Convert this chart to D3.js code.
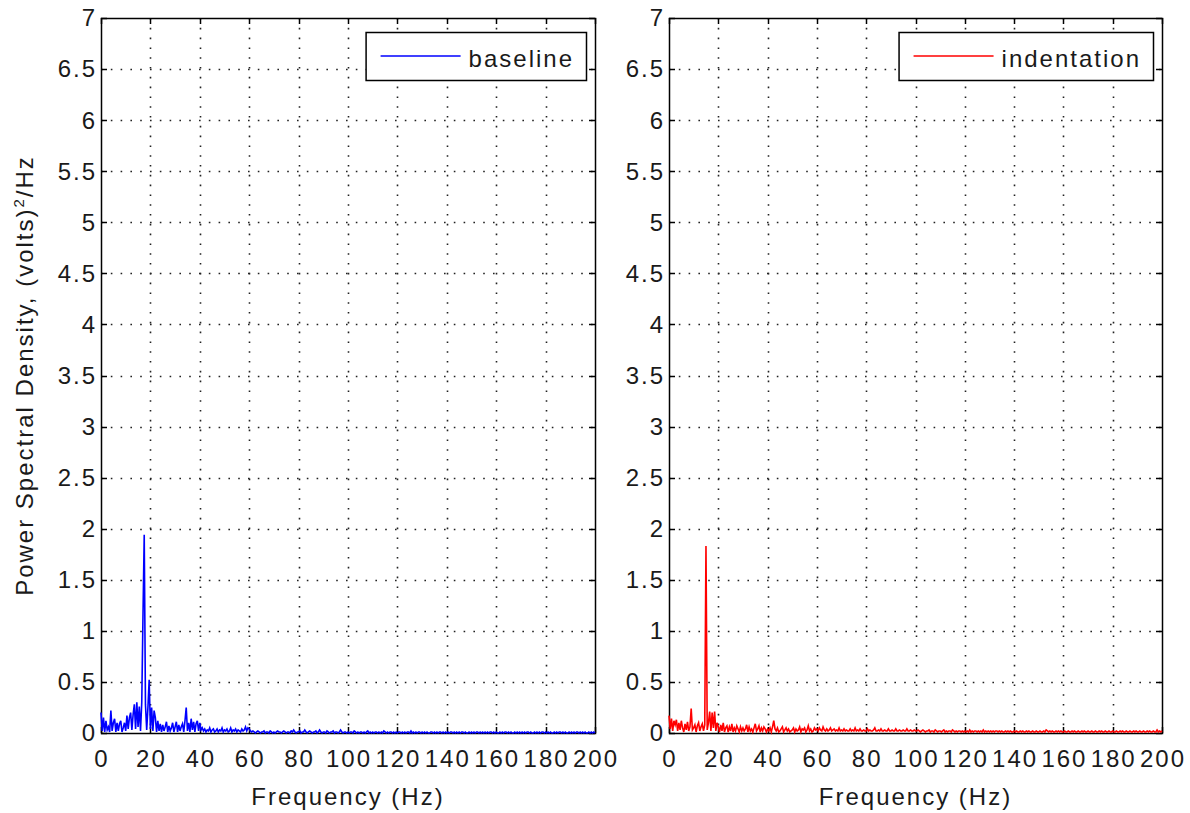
<!DOCTYPE html>
<html>
<head>
<meta charset="utf-8">
<script src="https://cdn.jsdelivr.net/npm/d3@7.9.0/dist/d3.min.js"></script>
<style>
  body { margin: 0; background: #fff; }
  svg text { font-family: "Liberation Sans", Arial, Helvetica, sans-serif; font-size: 24px; letter-spacing: 2px; fill: #1a1a1a; }
</style>
</head>
<body>
<svg id="chart" width="1190" height="813"></svg>
<script>
// ---------- Data ----------
// PSD estimates, one value every 0.5 Hz from 0 to 200 Hz
const freqStep = 0.5;

const baseline = [
  // 0-10 Hz
  0.20, 0.02, 0.15, 0.01, 0.12, 0.03, 0.06, 0.01, 0.22, 0.02, 0.10, 0.14, 0.01, 0.10, 0.02, 0.09, 0.12, 0.01, 0.05, 0.10,
  // 10-20 Hz
  0.02, 0.17, 0.04, 0.15, 0.20, 0.03, 0.18, 0.28, 0.04, 0.30, 0.06, 0.26, 0.02, 0.30, 1.15, 1.94, 0.28, 0.03, 0.25, 0.52,
  // 20-30 Hz
  0.04, 0.25, 0.02, 0.22, 0.15, 0.01, 0.12, 0.02, 0.09, 0.01, 0.08, 0.02, 0.06, 0.11, 0.01, 0.07, 0.02, 0.05, 0.10, 0.01,
  // 30-40 Hz
  0.06, 0.11, 0.01, 0.08, 0.02, 0.06, 0.09, 0.01, 0.12, 0.25, 0.02, 0.10, 0.01, 0.14, 0.03, 0.11, 0.01, 0.09, 0.12, 0.02,
  // 40-50 Hz
  0.10, 0.03, 0.05, 0.02, 0.04, 0.01, 0.03, 0.02, 0.05, 0.01, 0.03, 0.04, 0.01, 0.02, 0.04, 0.01, 0.03, 0.02, 0.05, 0.01,
  // 50-60 Hz
  0.03, 0.02, 0.04, 0.01, 0.02, 0.05, 0.01, 0.03, 0.02, 0.04, 0.01, 0.03, 0.02, 0.01, 0.04, 0.02, 0.03, 0.06, 0.02, 0.05,
  // 60-70 Hz
  0.04, 0.02, 0.01, 0.02, 0.01, 0.00, 0.01, 0.02, 0.01, 0.00, 0.01, 0.01, 0.02, 0.00, 0.01, 0.01, 0.00, 0.02, 0.01, 0.00,
  // 70-80 Hz
  0.01, 0.00, 0.01, 0.02, 0.01, 0.01, 0.00, 0.01, 0.02, 0.01, 0.00, 0.01, 0.01, 0.00, 0.02, 0.01, 0.03, 0.01, 0.00, 0.01,
  // 80-90 Hz
  0.01, 0.02, 0.00, 0.01, 0.01, 0.03, 0.01, 0.00, 0.01, 0.02, 0.01, 0.00, 0.01, 0.01, 0.02, 0.00, 0.01, 0.03, 0.01, 0.00,
  // 90-100 Hz
  0.01, 0.01, 0.00, 0.02, 0.01, 0.00, 0.01, 0.01, 0.02, 0.00, 0.01, 0.01, 0.00, 0.01, 0.03, 0.01, 0.00, 0.01, 0.01, 0.00,
  // 100-110 Hz
  0.01, 0.00, 0.01, 0.01, 0.00, 0.02, 0.01, 0.00, 0.01, 0.00, 0.01, 0.01, 0.00, 0.01, 0.00, 0.01, 0.02, 0.00, 0.01, 0.00,
  // 110-120 Hz
  0.01, 0.00, 0.01, 0.01, 0.00, 0.01, 0.00, 0.01, 0.00, 0.02, 0.01, 0.00, 0.01, 0.00, 0.01, 0.01, 0.00, 0.01, 0.00, 0.01,
  // 120-130 Hz
  0.00, 0.01, 0.01, 0.00, 0.01, 0.00, 0.01, 0.00, 0.01, 0.01, 0.00, 0.02, 0.00, 0.01, 0.00, 0.01, 0.00, 0.01, 0.01, 0.00,
  // 130-140 Hz
  0.01, 0.00, 0.01, 0.00, 0.01, 0.00, 0.00, 0.01, 0.01, 0.00, 0.01, 0.00, 0.01, 0.00, 0.01, 0.01, 0.00, 0.01, 0.00, 0.01,
  // 140-150 Hz
  0.00, 0.01, 0.00, 0.01, 0.01, 0.00, 0.01, 0.00, 0.01, 0.00, 0.01, 0.00, 0.01, 0.01, 0.00, 0.01, 0.00, 0.00, 0.01, 0.00,
  // 150-160 Hz
  0.01, 0.00, 0.01, 0.00, 0.01, 0.01, 0.00, 0.01, 0.00, 0.01, 0.00, 0.01, 0.00, 0.01, 0.00, 0.01, 0.01, 0.00, 0.01, 0.00,
  // 160-170 Hz
  0.01, 0.00, 0.00, 0.01, 0.00, 0.01, 0.00, 0.01, 0.01, 0.00, 0.01, 0.00, 0.01, 0.00, 0.00, 0.01, 0.00, 0.01, 0.00, 0.01,
  // 170-180 Hz
  0.00, 0.01, 0.00, 0.01, 0.00, 0.01, 0.01, 0.00, 0.01, 0.00, 0.00, 0.01, 0.00, 0.01, 0.00, 0.01, 0.00, 0.01, 0.01, 0.00,
  // 180-190 Hz
  0.01, 0.00, 0.01, 0.00, 0.01, 0.00, 0.00, 0.01, 0.00, 0.01, 0.00, 0.01, 0.01, 0.00, 0.01, 0.00, 0.01, 0.00, 0.00, 0.01,
  // 190-200 Hz
  0.00, 0.01, 0.00, 0.01, 0.00, 0.01, 0.01, 0.00, 0.01, 0.00, 0.01, 0.00, 0.01, 0.00, 0.00, 0.01, 0.00, 0.01, 0.00, 0.01,
  0.00
];

const indentation = [
  // 0-10 Hz
  0.17, 0.04, 0.14, 0.02, 0.12, 0.08, 0.13, 0.02, 0.10, 0.03, 0.12, 0.05, 0.01, 0.09, 0.03, 0.11, 0.02, 0.06, 0.24, 0.03,
  // 10-20 Hz
  0.05, 0.08, 0.01, 0.07, 0.10, 0.02, 0.06, 0.09, 0.02, 0.08, 1.83, 0.03, 0.10, 0.21, 0.02, 0.20, 0.05, 0.21, 0.02, 0.10,
  // 20-30 Hz
  0.06, 0.01, 0.08, 0.02, 0.10, 0.01, 0.05, 0.07, 0.01, 0.06, 0.02, 0.09, 0.01, 0.05, 0.02, 0.07, 0.04, 0.01, 0.06, 0.02,
  // 30-40 Hz
  0.05, 0.02, 0.04, 0.08, 0.01, 0.06, 0.02, 0.04, 0.01, 0.05, 0.09, 0.02, 0.04, 0.07, 0.01, 0.05, 0.02, 0.06, 0.04, 0.01,
  // 40-50 Hz
  0.04, 0.02, 0.05, 0.01, 0.06, 0.12, 0.04, 0.02, 0.05, 0.01, 0.02, 0.04, 0.06, 0.01, 0.03, 0.05, 0.02, 0.04, 0.01, 0.02,
  // 50-60 Hz
  0.03, 0.05, 0.01, 0.04, 0.02, 0.03, 0.06, 0.01, 0.04, 0.03, 0.05, 0.01, 0.03, 0.07, 0.02, 0.04, 0.01, 0.02, 0.05, 0.03,
  // 60-70 Hz
  0.04, 0.02, 0.05, 0.03, 0.02, 0.06, 0.03, 0.02, 0.04, 0.02, 0.03, 0.05, 0.02, 0.03, 0.04, 0.02, 0.03, 0.02, 0.05, 0.02,
  // 70-80 Hz
  0.03, 0.02, 0.04, 0.02, 0.03, 0.02, 0.02, 0.04, 0.02, 0.03, 0.02, 0.05, 0.02, 0.03, 0.02, 0.04, 0.02, 0.02, 0.03, 0.02,
  // 80-90 Hz
  0.02, 0.04, 0.02, 0.03, 0.02, 0.02, 0.03, 0.05, 0.02, 0.02, 0.03, 0.02, 0.04, 0.02, 0.02, 0.03, 0.02, 0.02, 0.04, 0.02,
  // 90-100 Hz
  0.02, 0.03, 0.02, 0.02, 0.04, 0.02, 0.02, 0.03, 0.02, 0.02, 0.03, 0.02, 0.02, 0.04, 0.02, 0.02, 0.03, 0.02, 0.02, 0.03,
  // 100-110 Hz
  0.02, 0.02, 0.03, 0.02, 0.01, 0.02, 0.03, 0.02, 0.01, 0.02, 0.02, 0.03, 0.01, 0.02, 0.02, 0.01, 0.03, 0.02, 0.01, 0.02,
  // 110-120 Hz
  0.02, 0.01, 0.02, 0.03, 0.01, 0.02, 0.01, 0.02, 0.02, 0.01, 0.03, 0.02, 0.01, 0.02, 0.01, 0.02, 0.02, 0.01, 0.02, 0.01,
  // 120-130 Hz
  0.02, 0.01, 0.02, 0.01, 0.03, 0.01, 0.02, 0.01, 0.02, 0.02, 0.01, 0.02, 0.01, 0.02, 0.01, 0.03, 0.01, 0.02, 0.01, 0.02,
  // 130-140 Hz
  0.01, 0.02, 0.01, 0.02, 0.01, 0.02, 0.02, 0.01, 0.02, 0.01, 0.02, 0.01, 0.01, 0.02, 0.01, 0.02, 0.01, 0.02, 0.01, 0.01,
  // 140-150 Hz
  0.02, 0.01, 0.02, 0.01, 0.01, 0.02, 0.01, 0.02, 0.01, 0.01, 0.02, 0.01, 0.02, 0.01, 0.01, 0.02, 0.01, 0.01, 0.02, 0.01,
  // 150-160 Hz
  0.01, 0.02, 0.01, 0.01, 0.02, 0.01, 0.03, 0.02, 0.01, 0.02, 0.01, 0.02, 0.01, 0.01, 0.02, 0.01, 0.02, 0.01, 0.02, 0.01,
  // 160-170 Hz
  0.01, 0.02, 0.01, 0.01, 0.02, 0.01, 0.01, 0.02, 0.01, 0.02, 0.01, 0.01, 0.02, 0.01, 0.01, 0.02, 0.01, 0.02, 0.01, 0.01,
  // 170-180 Hz
  0.02, 0.01, 0.01, 0.02, 0.01, 0.01, 0.02, 0.01, 0.01, 0.02, 0.01, 0.02, 0.01, 0.01, 0.02, 0.01, 0.01, 0.02, 0.01, 0.01,
  // 180-190 Hz
  0.02, 0.01, 0.01, 0.02, 0.01, 0.01, 0.02, 0.01, 0.02, 0.01, 0.01, 0.02, 0.01, 0.01, 0.02, 0.01, 0.01, 0.02, 0.01, 0.02,
  // 190-200 Hz
  0.01, 0.01, 0.02, 0.01, 0.01, 0.02, 0.01, 0.01, 0.02, 0.01, 0.02, 0.01, 0.01, 0.02, 0.01, 0.01, 0.03, 0.01, 0.02, 0.01,
  0.02
];

// Tick values
const xTicks = [0, 20, 40, 60, 80, 100, 120, 140, 160, 180, 200];
const yTicks = [0, 0.5, 1, 1.5, 2, 2.5, 3, 3.5, 4, 4.5, 5, 5.5, 6, 6.5, 7];

// ---------- Layout ----------
const svg = d3.select("#chart");
const plotTop = 18, plotBottom = 733;
const panels = [
  { left: 101, right: 595, values: baseline, color: "#0000ff", name: "baseline" },
  { left: 669, right: 1162, values: indentation, color: "#ff0000", name: "indentation" }
];

const y = d3.scaleLinear().domain([0, 7]).range([plotBottom, plotTop]);

// ---------- Panel renderer ----------
function drawPanel(p) {
  const x = d3.scaleLinear().domain([0, 200]).range([p.left, p.right]);
  const g = svg.append("g");

  // dotted grid
  g.selectAll(".gx")
    .data(xTicks.slice(1, -1))
    .join("line")
    .attr("x1", (d) => Math.round(x(d)) + 0.5)
    .attr("x2", (d) => Math.round(x(d)) + 0.5)
    .attr("y1", plotTop)
    .attr("y2", plotBottom)
    .attr("stroke", "#222")
    .attr("stroke-width", 1.6)
    .attr("stroke-dasharray", "1.6,8.2");

  g.selectAll(".gy")
    .data(yTicks.slice(1, -1))
    .join("line")
    .attr("y1", (d) => Math.round(y(d)) + 0.5)
    .attr("y2", (d) => Math.round(y(d)) + 0.5)
    .attr("x1", p.left)
    .attr("x2", p.right)
    .attr("stroke", "#222")
    .attr("stroke-width", 1.6)
    .attr("stroke-dasharray", "1.6,8.2");

  // inward ticks on all four sides
  const tl = 6;
  xTicks.forEach((t) => {
    const xx = Math.round(x(t)) + 0.5;
    g.append("line").attr("x1", xx).attr("x2", xx).attr("y1", plotBottom).attr("y2", plotBottom - tl).attr("stroke", "#000").attr("stroke-width", 1.5);
    g.append("line").attr("x1", xx).attr("x2", xx).attr("y1", plotTop).attr("y2", plotTop + tl).attr("stroke", "#000").attr("stroke-width", 1.5);
  });
  yTicks.forEach((t) => {
    const yy = Math.round(y(t)) + 0.5;
    g.append("line").attr("x1", p.left).attr("x2", p.left + tl).attr("y1", yy).attr("y2", yy).attr("stroke", "#000").attr("stroke-width", 1.5);
    g.append("line").attr("x1", p.right).attr("x2", p.right - tl).attr("y1", yy).attr("y2", yy).attr("stroke", "#000").attr("stroke-width", 1.5);
  });

  // box
  g.append("rect")
    .attr("x", p.left + 0.5)
    .attr("y", plotTop + 0.5)
    .attr("width", p.right - p.left)
    .attr("height", plotBottom - plotTop)
    .attr("fill", "none")
    .attr("stroke", "#000")
    .attr("stroke-width", 1.5);

  // PSD trace
  const line = d3.line()
    .x((d, i) => x(i * freqStep))
    .y((d) => y(d));
  g.append("path")
    .datum(p.values)
    .attr("d", line)
    .attr("fill", "none")
    .attr("stroke", p.color)
    .attr("stroke-width", 1.6);

  // tick labels
  g.selectAll(".xl")
    .data(xTicks)
    .join("text")
    .attr("x", (d) => x(d) + 1)
    .attr("y", 767)
    .attr("text-anchor", "middle")
    .text((d) => d);

  g.selectAll(".yl")
    .data(yTicks)
    .join("text")
    .attr("x", p.left - 4)
    .attr("y", (d) => y(d))
    .attr("dy", "0.35em")
    .attr("text-anchor", "end")
    .text((d) => d);

  // x axis title
  g.append("text")
    .attr("x", (p.left + p.right) / 2)
    .attr("y", 805)
    .attr("text-anchor", "middle")
    .text("Frequency (Hz)");

  // legend
  const lg = g.append("g");
  const label = lg.append("text").attr("y", 67).text(p.name);
  const w = label.node().getComputedTextLength();
  const boxRight = p.right - 9;
  const boxLeft = boxRight - (15 + 80 + 8 + w + 12);
  lg.insert("rect", "text")
    .attr("x", boxLeft + 0.5)
    .attr("y", 32.5)
    .attr("width", boxRight - boxLeft)
    .attr("height", 48)
    .attr("fill", "#fff")
    .attr("stroke", "#000")
    .attr("stroke-width", 1.5);
  lg.append("line")
    .attr("x1", boxLeft + 15)
    .attr("x2", boxLeft + 95)
    .attr("y1", 56)
    .attr("y2", 56)
    .attr("stroke", p.color)
    .attr("stroke-width", 1.5);
  label.attr("x", boxLeft + 103);
}

panels.forEach(drawPanel);

// ---------- Y axis title ----------
const yt = svg.append("text")
  .attr("transform", "translate(33," + (plotTop + plotBottom) / 2 + ") rotate(-90)")
  .attr("text-anchor", "middle");
yt.append("tspan").text("Power Spectral Density, (volts)");
yt.append("tspan").attr("dy", -9).style("font-size", "15px").text("2");
yt.append("tspan").attr("dy", 9).text("/Hz");
</script>
</body>
</html>
